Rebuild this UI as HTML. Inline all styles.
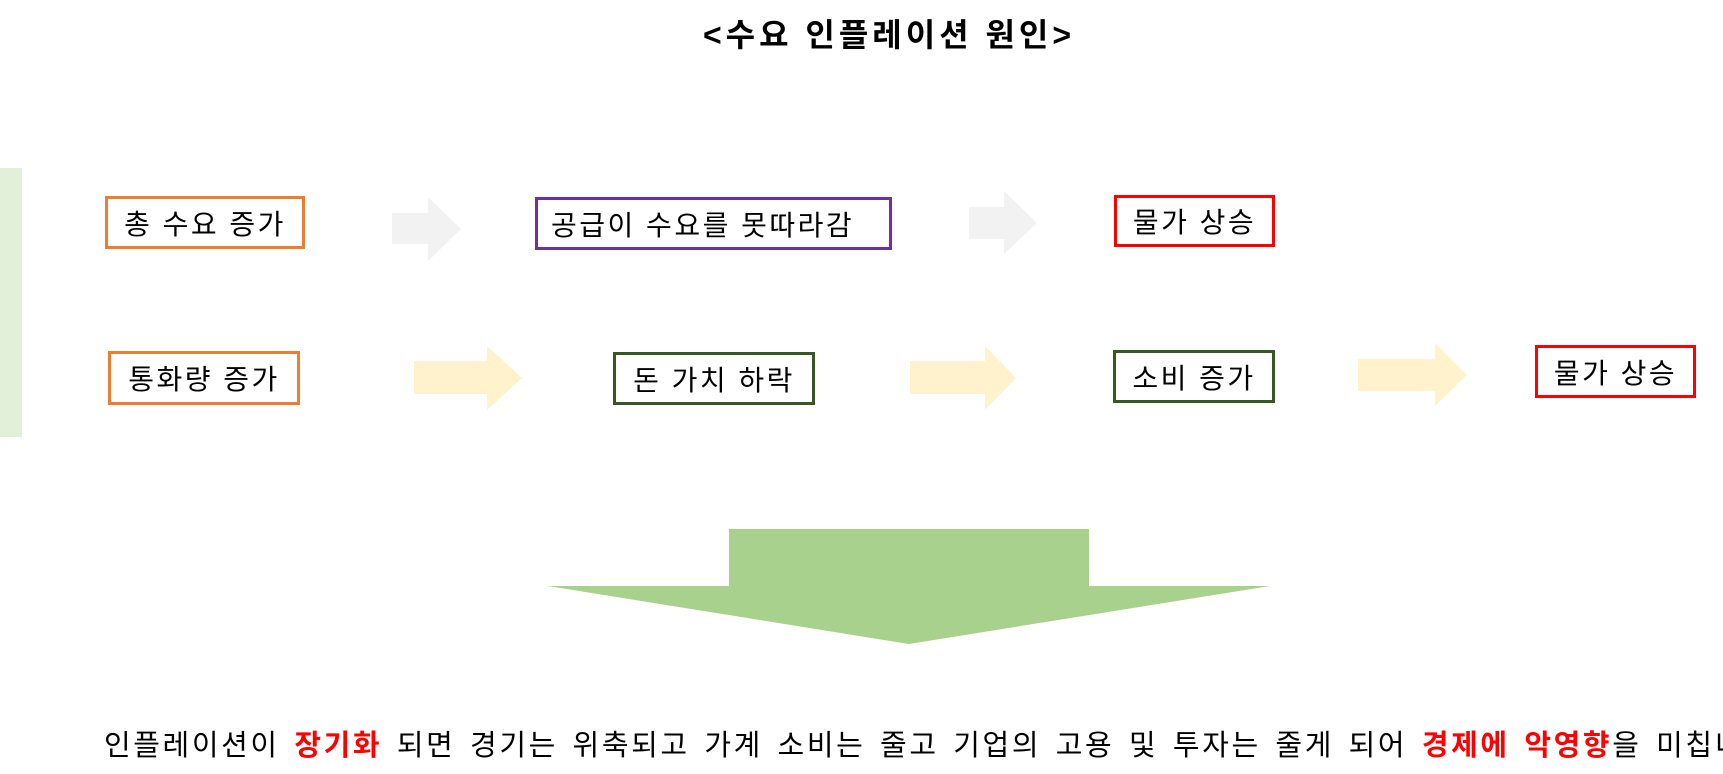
<!DOCTYPE html>
<html><head><meta charset="utf-8"><style>
body{margin:0;width:1723px;height:774px;background:#fff;position:relative;overflow:hidden;font-family:"Liberation Sans","Noto Sans CJK KR",sans-serif;}
.b{position:absolute;box-sizing:border-box;border:3px solid;display:flex;align-items:center;justify-content:center;font-size:28px;letter-spacing:2.5px;color:#000;white-space:nowrap;background:#fff}
.t{position:absolute;white-space:nowrap}
</style></head><body>
<div class="t" style="left:0;width:1778px;top:10px;text-align:center;font-size:32px;font-weight:bold;letter-spacing:4px;">&lt;수요 인플레이션 원인&gt;</div>
<div style="position:absolute;left:0;top:168px;width:22px;height:269px;background:#e2efd9"></div>
<svg width="1723" height="774" style="position:absolute;left:0;top:0">
<polygon points="392,213 428,213 428,197 461,229 428,261 428,244 392,244" fill="#f2f2f2"/>
<polygon points="969,207 1004,207 1004,191 1037,223 1004,254 1004,239 969,239" fill="#f2f2f2"/>
<polygon points="414,361 487,361 487,346 522,378 487,410 487,394 414,394" fill="#fff2cc"/>
<polygon points="910,361 985,361 985,346 1016,378 985,410 985,394 910,394" fill="#fff2cc"/>
<polygon points="1358,359 1435,359 1435,343 1467,375 1435,406 1435,391 1358,391" fill="#fff2cc"/>
<polygon points="729,529 1089,529 1089,586 1270,586 909,644 548,586 729,586" fill="#a9d18e"/>
</svg>
<div class="b" style="left:105px;top:196px;width:200px;height:53px;border-color:#ed7d31">총 수요 증가</div>
<div class="b" style="left:535px;top:197px;width:357px;height:53px;border-color:#7030a0;justify-content:flex-start;padding-left:13px">공급이 수요를 못따라감</div>
<div class="b" style="left:1114px;top:195px;width:161px;height:52px;border-color:#ff0000">물가 상승</div>
<div class="b" style="left:108px;top:351px;width:192px;height:54px;border-color:#ed7d31">통화량 증가</div>
<div class="b" style="left:613px;top:352px;width:202px;height:53px;border-color:#375623">돈 가치 하락</div>
<div class="b" style="left:1113px;top:350px;width:162px;height:53px;border-color:#375623">소비 증가</div>
<div class="b" style="left:1535px;top:345px;width:161px;height:53px;border-color:#ff0000">물가 상승</div>
<div class="t" style="left:104px;top:722px;font-size:29px;letter-spacing:2.6px;word-spacing:4px;">인플레이션이 <b style="color:#ff0000">장기화</b> 되면 경기는 위축되고 가계 소비는 줄고 기업의 고용 및 투자는 줄게 되어 <b style="color:#ff0000">경제에 악영향</b>을 미칩니다.</div>
</body></html>
